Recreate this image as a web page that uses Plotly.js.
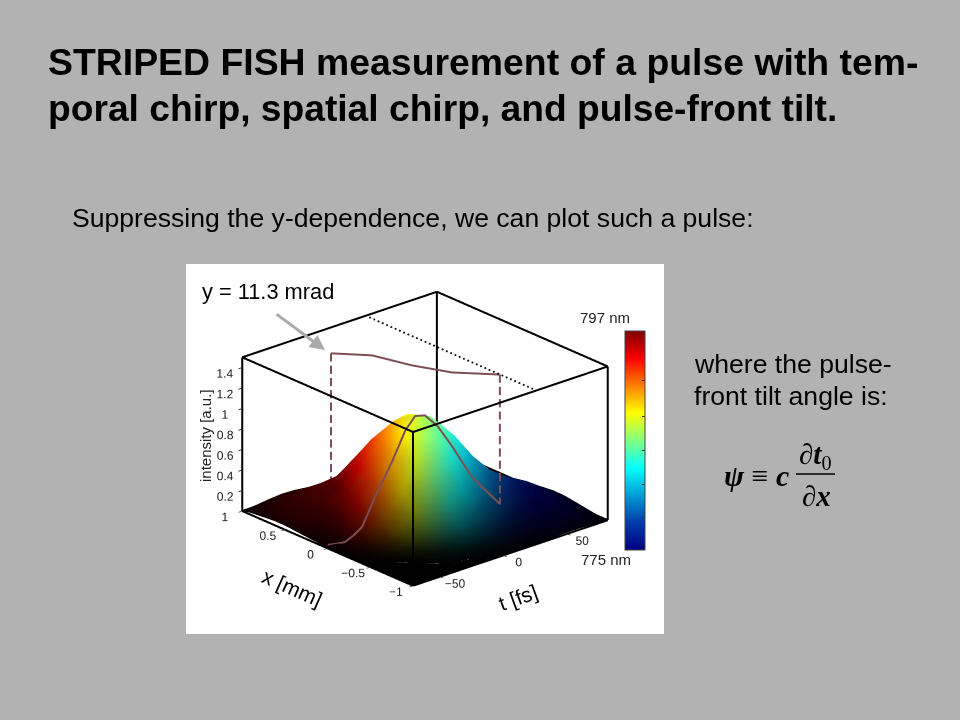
<!DOCTYPE html>
<html>
<head>
<meta charset="utf-8">
<script src="https://cdn.plot.ly/plotly-3.0.1.min.js"></script>
<style>html,body{margin:0;padding:0;background:#b2b2b2}#g{width:960px;height:720px}</style>
</head>
<body>
<div id="g"></div>
<script>
// Axis samples
var tValues = [-71,-60,-50,-40,-30,-20,-10,0,10,20,30,40,50,60,70,82];
var xValues = [1,.875,.75,.625,.5,.375,.25,.125,0,-.125,-.25,-.375,-.5,-.625,-.75,-.875,-1];
var tRange = [-71,82], xRange = [-1,1], zRange = [0,1.5];
// Intensity, one row per x value
var intensity = [
[.005,.015,.03,.04,.035,.02,.01,.005,0,0,0,0,0,0,0,0],
[.02,.05,.08,.10,.085,.05,.025,.01,.003,0,0,0,0,0,0,0],
[.03,.08,.145,.18,.167,.116,.066,.033,.014,.006,.002,0,0,0,0,0],
[.04,.10,.186,.25,.256,.212,.15,.092,.048,.022,.008,.002,0,0,0,0],
[.04,.10,.19,.29,.355,.363,.314,.229,.139,.07,.03,.01,.003,0,0,0],
[.03,.087,.187,.326,.5,.6,.57,.45,.304,.169,.077,.03,.01,.003,0,0],
[.02,.066,.158,.315,.54,.76,.82,.735,.56,.35,.18,.076,.026,.008,.002,0],
[.012,.045,.122,.27,.52,.8,.95,.97,.82,.58,.315,.157,.076,.041,.021,.008],
[.005,.023,.07,.178,.365,.63,.88,1.01,.95,.76,.5,.267,.146,.084,.046,.016],
[.002,.011,.036,.1,.228,.426,.655,.84,.88,.77,.57,.349,.226,.15,.088,.032],
[.001,.003,.014,.041,.106,.224,.387,.55,.642,.625,.519,.392,.298,.22,.135,.05],
[0,.001,.005,.015,.043,.1,.191,.299,.385,.417,.391,.345,.305,.247,.159,.06],
[0,0,.001,.004,.013,.033,.071,.127,.186,.227,.246,.256,.257,.222,.148,.057],
[0,0,0,.001,.003,.01,.023,.045,.071,.1,.125,.151,.168,.156,.106,.042],
[0,0,0,0,.001,.003,.006,.012,.022,.035,.052,.072,.089,.086,.06,.025],
[0,0,0,0,0,0,.001,.003,.006,.009,.018,.027,.037,.037,.027,.01],
[0,0,0,0,0,0,0,0,.001,.002,.004,.009,.012,.012,.008,.003]
];
// Wavelength in nm: centre plus temporal chirp (per t) and spatial chirp (per x)
var centreWavelength = 788.1;
var temporalChirp = [10.1,8.5,7.1,5.7,4.2,2.8,1.3,-.1,-1.5,-3,-4.4,-5.8,-7.3,-8.7,-10.2,-11.9];
var spatialChirp = [9.3,8.05,6.85,5.6,4.4,3.2,2,.8,-.4,-1.6,-2.8,-4,-5.2,-6.4,-7.6,-8.8,-10];
var wavelengthMin = 775, wavelengthMax = 797;
var jetStops = [[0,0,0,131],[.125,0,60,170],[.375,5,255,255],[.625,255,255,0],[.875,250,0,0],[1,128,0,0]];
// Slice at y = 11.3 mrad
var sliceT = [-69,-64,-60,-53,-46.7,-40.5,-34,-27.4,-20,-10,-2.3,2.8,7.6,10.6,15.6,27];
var sliceX = [.03,0,-.04,-.04,-.04,-.02,0,0,0,0,0,-.04,-.12,-.24,-.4,-.558];
var sliceI = [.01,.012,.027,.066,.118,.22,.34,.478,.64,.89,1.0,1.0,.9,.74,.473,.222];
// The same slice's pulse-front position, on the top plane
var frontT = [-26.5,-10.4,-2.8,7.8,26.9];
var frontX = [.624,.384,.028,-.282,-.558];
var topZ = 1.49;
// Drop lines from the top plane to the surface, dash by dash
var leftDropZ = [1.49,1.41,null,1.37,1.29,null,1.25,1.17,null,1.13,1.05,null,1.01,.93,null,.89,.81,null,.77,.69,null,.65,.57,null,.53,.45,null,.41,.33,null,.29,.25];
var rightDropZ = [1.49,1.41,null,1.37,1.29,null,1.25,1.17,null,1.13,1.05,null,1.01,.93,null,.89,.81,null,.77,.69,null,.65,.57,null,.53,.45,null,.41,.33,null,.29,.222];
var zeroTiltT = 26;
var zeroTiltX = [1,.95,.9,.85,.8,.75,.7,.65,.6,.55,.5,.45,.4,.35,.3,.25,.2,.15,.1,.05,0,-.05,-.1,-.15,-.2,-.25,-.3,-.35,-.4,-.45,-.5,-.55,-.6,-.65,-.7,-.75,-.8,-.85,-.9,-.95,-1];
var tTicks = [-50,0,50], xTicks = [-1,-.5,0,.5,1], zTicks = [.2,.4,.6,.8,1,1.2,1.4];
var barTicks = [778.3,781.6,785,788.4,792];

function jet(q){
  q = Math.max(0,Math.min(1,q));
  for (var i=1;i<jetStops.length;i++){
    if (q<=jetStops[i][0]){
      var a=jetStops[i-1], b=jetStops[i], f=(q-a[0])/(b[0]-a[0]);
      return [a[1]+f*(b[1]-a[1]), a[2]+f*(b[2]-a[2]), a[3]+f*(b[3]-a[3])];
    }
  }
  return jetStops[jetStops.length-1].slice(1);
}
var mx=[],my=[],mz=[],mc=[],fi=[],fj=[],fk=[];
var nR=xValues.length,nC=tValues.length;
for (var r=0;r<nR;r++) for (var c=0;c<nC;c++){
  var I=intensity[r][c];
  mx.push(tValues[c]); my.push(xValues[r]); mz.push(I);
  var lam=centreWavelength+temporalChirp[c]+spatialChirp[r];
  var col=jet((lam-wavelengthMin)/(wavelengthMax-wavelengthMin));
  var v=Math.min(1,Math.pow(I/.85,.55));
  mc.push('rgb('+Math.round(col[0]*v)+','+Math.round(col[1]*v)+','+Math.round(col[2]*v)+')');
  if (r<nR-1&&c<nC-1){
    var p=r*nC+c;
    fi.push(p,p); fj.push(p+1,p+nC+1); fk.push(p+nC+1,p+nC);
  }
}
// Bounding box edges from the axis ranges
var bx=[],by=[],bz=[];
function edge(a,b){bx.push(a[0],b[0],null);by.push(a[1],b[1],null);bz.push(a[2],b[2],null);}
[0,1].forEach(function(a){[0,1].forEach(function(b){
  edge([tRange[a],xRange[b],zRange[0]],[tRange[a],xRange[b],zRange[1]]);
  edge([tRange[0],xRange[a],zRange[b]],[tRange[1],xRange[a],zRange[b]]);
  edge([tRange[a],xRange[0],zRange[b]],[tRange[a],xRange[1],zRange[b]]);
});});
function along(z,v){return z.map(function(d){return d===null?null:v;});}
var brown='#7d4f55';
var traces=[
 {type:'mesh3d',x:mx,y:my,z:mz,i:fi,j:fj,k:fk,vertexcolor:mc,flatshading:false,hoverinfo:'skip',
  lighting:{ambient:1,diffuse:0,specular:0,roughness:1,fresnel:0}},
 {type:'scatter3d',mode:'lines',x:bx,y:by,z:bz,line:{color:'#000',width:4},hoverinfo:'skip'},
 {type:'scatter3d',mode:'lines',x:sliceT,y:sliceX,z:sliceI.map(function(d){return d+.004;}),line:{color:brown,width:4},hoverinfo:'skip'},
 {type:'scatter3d',mode:'lines',x:frontT,y:frontX,z:frontT.map(function(){return topZ;}),line:{color:brown,width:4},hoverinfo:'skip'},
 {type:'scatter3d',mode:'lines',x:along(leftDropZ,frontT[0]),y:along(leftDropZ,frontX[0]),z:leftDropZ,line:{color:brown,width:4},hoverinfo:'skip'},
 {type:'scatter3d',mode:'lines',x:along(rightDropZ,frontT[4]),y:along(rightDropZ,frontX[4]),z:rightDropZ,line:{color:brown,width:4},hoverinfo:'skip'},
 {type:'scatter3d',mode:'markers',x:along(zeroTiltX,zeroTiltT),y:zeroTiltX,z:along(zeroTiltX,zRange[1]),marker:{color:'#111',size:1.2,line:{width:0}},hoverinfo:'skip'},
 {type:'scatter3d',mode:'markers',x:[tValues[0],tValues[0]],y:[xValues[0],xValues[0]],z:[0,0],hoverinfo:'skip',
  marker:{size:1,opacity:0,color:[wavelengthMin,wavelengthMax],cmin:wavelengthMin,cmax:wavelengthMax,colorscale:'Jet',showscale:true,
   colorbar:{xref:'paper',yref:'paper',x:625/960,xanchor:'left',xpad:0,y:1-440.5/720,yanchor:'middle',ypad:0,
    lenmode:'pixels',len:219,thicknessmode:'pixels',thickness:20,tickmode:'array',tickvals:barTicks,ticks:'inside',ticklen:3,
    tickcolor:'#333',showticklabels:false,outlinecolor:'#444',outlinewidth:1}}}
];
function ax(extra){
  var base={showbackground:false,showgrid:false,zeroline:false,showspikes:false,showline:false,mirror:false,
    ticks:'outside',ticklen:5,tickcolor:'#333',tickwidth:2,tickmode:'array',tickangle:0,tickfont:{family:'Liberation Sans',size:12,color:'#222'}};
  for (var k in extra) base[k]=extra[k];
  return base;
}
var sans='Liberation Sans', serif='Liberation Serif';
function note(text,px,py,size,opt){
  var a={xref:'paper',yref:'paper',x:px/960,y:1-py/720,xanchor:'left',yanchor:'middle',text:text,showarrow:false,font:{family:sans,size:size,color:'#000'},align:'left'};
  for (var k in opt||{}) a[k]=opt[k];
  return a;
}
function rotated(text,px,py,size,angle,color){
  return {xref:'paper',yref:'paper',x:px/960,y:1-py/720,xanchor:'center',yanchor:'middle',text:text,showarrow:false,textangle:angle,font:{family:sans,size:size,color:color}};
}
var layout={
 width:960,height:720,margin:{l:0,r:0,t:0,b:0},paper_bgcolor:'#b2b2b2',showlegend:false,
 title:{text:'STRIPED FISH measurement of a pulse with tem-',x:48/960,xanchor:'left',y:1-62/720,yanchor:'middle',font:{family:sans,size:37.4,color:'#000',weight:'bold'}},
 scene:{domain:{x:[186/960,664/960],y:[1-634/720,1-264/720]},bgcolor:'#fff',
  aspectmode:'manual',aspectratio:{x:1.4,y:1.4,z:.9},
  camera:{projection:{type:'orthographic'},eye:{x:-1.232,y:-1.404,z:.716},center:{x:0,y:0,z:-.06},up:{x:0,y:0,z:1}},
  xaxis:ax({range:tRange,tickvals:tTicks,title:{text:''}}),
  yaxis:ax({range:xRange,tickvals:xTicks,title:{text:''}}),
  zaxis:ax({range:zRange,tickvals:zTicks,title:{text:''}})
 },
 annotations:[
  note('<b>poral chirp, spatial chirp, and pulse-front tilt.</b>',46,108,37.2),
  note('Suppressing the y-dependence, we can plot such a pulse:',70,218,26.6),
  note('where the pulse-',692,364,26.6),
  note('front tilt angle is:',692,396,26.6),
  note('y = 11.3 mrad',200,291,21.8),
  note('797 nm',578,317,15,{font:{family:sans,size:15,color:'#222'}}),
  note('775 nm',579,559,15,{font:{family:sans,size:15,color:'#222'}}),
  rotated('x [mm]',292,587,21,24,'#000'),
  rotated('t [fs]',518,597,21,-20,'#000'),
  rotated('intensity [a.u.]',206,436,15,-90,'#222'),
  {xref:'paper',yref:'paper',axref:'paper',ayref:'paper',x:325/960,y:1-350/720,ax:275/960,ay:1-313/720,text:'',showarrow:true,arrowcolor:'#aaa',arrowwidth:3,arrowhead:2,arrowsize:1},
  note('<b><i>ψ</i></b> ≡ <b><i>c</i></b>',722,475,30,{font:{family:serif,size:30,color:'#000'}}),
  note('∂<b><i>t</i></b><sub>0</sub>',797,456,29,{font:{family:serif,size:29,color:'#000'}}),
  note('∂<b><i>x</i></b>',800,496,29,{font:{family:serif,size:29,color:'#000'}})
 ],
 shapes:[{type:'line',xref:'paper',yref:'paper',x0:796/960,x1:835/960,y0:1-474/720,y1:1-474/720,line:{color:'#000',width:1.5}}]
};
Plotly.newPlot('g',traces,layout,{displayModeBar:false});
</script>
</body>
</html>
